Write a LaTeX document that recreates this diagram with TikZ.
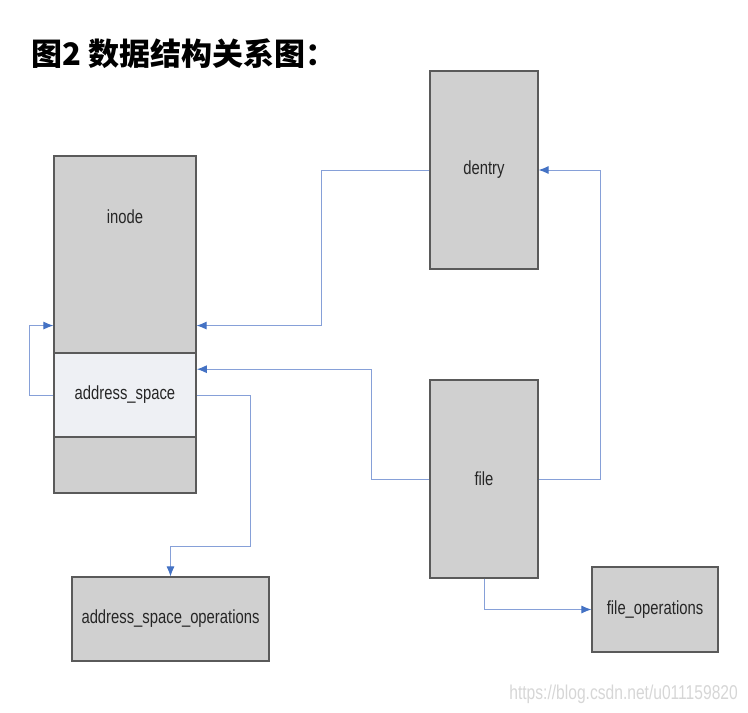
\documentclass[tikz,border=0pt]{standalone}
\usepackage{fontspec}
\usepackage{xcolor}
\usepackage{tikz}
\usetikzlibrary{arrows.meta,positioning,calc}
\newfontfamily\cjk{Noto Sans CJK SC}
\newfontfamily\labelfont[FakeStretch=0.78]{Liberation Sans}
\definecolor{BoxGray}{HTML}{D0D0D0}
\definecolor{BoxEdge}{HTML}{5A5A5A}
\definecolor{SpaceFill}{HTML}{EEF0F4}
\definecolor{LinkBlue}{HTML}{86A0D8}
\definecolor{TipBlue}{HTML}{4472C4}
\definecolor{MarkGray}{HTML}{D6D6D6}

\begin{document}
\begin{tikzpicture}[
        x=1pt, y=-1pt,
        box/.style={
            draw=BoxEdge,
            line width=1.1pt,
            fill=BoxGray,
            inner sep=0pt,
            font=\labelfont\fontsize{19}{22}\selectfont,
            text=black!85
        },
        spacebox/.style={
            box,
            line width=1.6pt,
            fill=SpaceFill
        },
        bluearrow/.style={-{Latex[length=10pt,width=8pt,color=TipBlue]}, line width=1pt, draw=LinkBlue}
    ]
        \useasboundingbox (0,0) rectangle (748,713);

        \node[font=\cjk\bfseries\fontsize{31}{34}\selectfont, anchor=west, inner sep=0pt] (title) at (31,54)
            {图2 数据结构关系图：};

        % inode with its address_space part
        \node[box, minimum width=142pt, minimum height=197pt] (inode) at (125,254.5) {};
        \node[font=\labelfont\fontsize{19}{22}\selectfont, text=black!85] (inodetext) at (125,217) {inode};
        \node[spacebox, minimum width=142pt, minimum height=84pt] (aspace) at (125,395) {address\_space};
        \node[box, minimum width=142pt, minimum height=56pt] (inodetail) at (125,465) {};

        \node[box, minimum width=108pt, minimum height=198pt] (dentry) at (484,170) {dentry};
        \node[box, minimum width=108pt, minimum height=198pt] (file) at (484,479) {file};
        \node[box, minimum width=197pt, minimum height=84pt] (aso) at (170.5,619) {address\_space\_operations};
        \node[box, minimum width=126pt, minimum height=85pt] (fops) at (655,609.5) {file\_operations};

        \node[font=\labelfont\fontsize{20}{22}\selectfont, text=MarkGray, anchor=east, inner sep=0pt] (mark) at (738,694)
            {https://blog.csdn.net/u011159820};

        \draw[bluearrow] (aspace.west) -- ++(-24,0) |- ([yshift=28pt]inode.south west);
        \draw[bluearrow] (dentry.west) -- ++(-108,0) |- ([yshift=28pt]inode.south east);
        \draw[bluearrow] (file.west) -- ++(-58,0) |- ([yshift=-17pt]aspace.north east);
        \draw[bluearrow] (aspace.east) -- ++(54,0) -- ++(0,151) -| (aso.north);
        \draw[bluearrow] (file.east) -- ++(62,0) |- (dentry.east);
        \draw[bluearrow] (file.south) |- (fops.west);
    \end{tikzpicture}
\end{document}
